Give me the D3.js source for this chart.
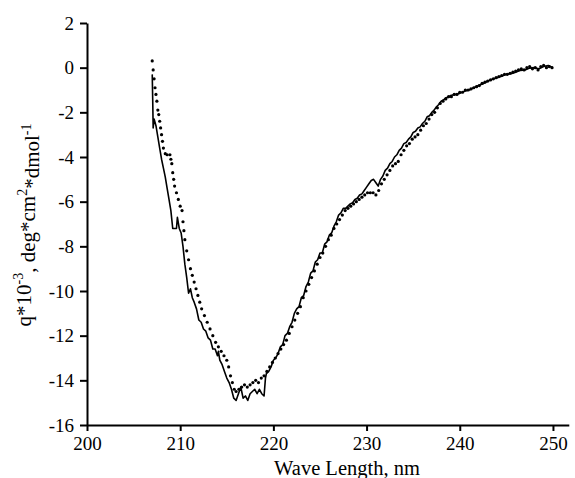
<html>
<head>
<title>CD spectrum</title>
<script src="https://cdn.jsdelivr.net/npm/d3@7"></script>
<style>
body { margin: 0; background: #fff; }
text { font-family: "Liberation Serif", "Times New Roman", serif; fill: #000; }
</style>
</head>
<body>
<div id="chart"></div>
<script>
// solid trace
var solidNm = [207.0, 207.05, 207.1, 207.2, 207.4, 207.6, 207.8, 208.0, 208.2, 208.4, 208.6, 208.8, 209.0, 209.2, 209.4, 209.6, 209.7, 209.9, 210.1, 210.3, 210.5, 210.7, 210.9, 211.1, 211.3, 211.5, 211.75, 212.0, 212.25, 212.5, 212.75, 213.0, 213.25, 213.5, 213.75, 214.0, 214.1, 214.25, 214.5, 214.75, 215.0, 215.25, 215.5, 215.75, 216.0, 216.25, 216.5, 216.75, 217.0, 217.25, 217.5, 217.75, 218.0, 218.25, 218.5, 218.75, 219.0, 219.15, 219.25, 219.5, 219.75, 220.0, 220.25, 220.5, 220.75, 221.0, 221.25, 221.5, 221.75, 222.0, 222.25, 222.5, 222.75, 223.0, 223.25, 223.5, 223.75, 224.0, 224.25, 224.5, 224.75, 225.0, 225.25, 225.5, 225.75, 226.0, 226.25, 226.5, 226.75, 227.0, 227.25, 227.5, 227.75, 228.0, 228.25, 228.5, 228.75, 229.0, 229.25, 229.5, 229.75, 230.0, 230.25, 230.5, 230.75, 231.0, 231.25, 231.5, 231.75, 232.0, 232.25, 232.5, 232.75, 233.0, 233.25, 233.5, 233.75, 234.0, 234.25, 234.5, 234.75, 235.0, 235.25, 235.5, 235.75, 236.0, 236.25, 236.5, 236.75, 237.0, 237.25, 237.5, 237.75, 238.0, 238.25, 238.5, 238.75, 239.0, 239.5, 240.0, 240.5, 241.0, 241.5, 242.0, 242.5, 243.0, 243.5, 244.0, 244.5, 245.0, 245.5, 246.0, 246.5, 247.0, 247.5, 248.0, 248.5, 249.0, 249.5, 250.0];
var solidVal = [-0.3, -1.4, -2.7, -2.3, -2.6, -3.1, -3.6, -4.1, -4.5, -4.9, -5.4, -5.9, -6.4, -7.2, -7.2, -7.2, -6.7, -7.2, -7.4, -8.0, -8.8, -9.4, -10.1, -9.9, -10.3, -10.5, -10.8, -11.3, -11.4, -11.7, -11.8, -12.1, -12.2, -12.6, -12.6, -12.9, -12.7, -13.1, -13.3, -13.6, -13.9, -14.1, -14.4, -14.8, -14.9, -14.6, -14.3, -14.8, -14.7, -14.9, -14.6, -14.5, -14.4, -14.6, -14.4, -14.6, -14.7, -13.9, -13.7, -13.6, -13.4, -13.1, -13.0, -12.8, -12.5, -12.4, -12.0, -11.9, -11.6, -11.4, -11.0, -10.8, -10.7, -10.3, -10.2, -9.8, -9.6, -9.2, -9.1, -8.7, -8.6, -8.3, -8.3, -7.9, -7.8, -7.5, -7.4, -7.1, -6.9, -6.6, -6.5, -6.3, -6.3, -6.2, -6.1, -6.05, -5.9, -5.85, -5.7, -5.65, -5.5, -5.35, -5.2, -5.05, -5.0, -5.15, -5.3, -5.0, -4.85, -4.6, -4.5, -4.3, -4.2, -4.0, -3.9, -3.7, -3.6, -3.4, -3.35, -3.2, -3.1, -2.9, -2.85, -2.7, -2.65, -2.5, -2.4, -2.2, -2.15, -2.0, -1.9, -1.75, -1.65, -1.5, -1.45, -1.35, -1.33, -1.25, -1.2, -1.15, -1.05, -1.0, -0.9, -0.8, -0.72, -0.6, -0.52, -0.45, -0.38, -0.3, -0.27, -0.2, -0.12, -0.1, -0.02, 0.0, -0.05, 0.05, 0.1, 0.0];

// dotted trace
var dotNm = [207.0, 207.1, 207.2, 207.3, 207.4, 207.5, 207.6, 207.7, 207.8, 207.9, 208.0, 208.1, 208.2, 208.4, 208.6, 208.9, 209.0, 209.1, 209.2, 209.3, 209.4, 209.6, 209.8, 210.0, 210.2, 210.3, 210.4, 210.5, 210.7, 210.9, 211.1, 211.3, 211.5, 211.7, 211.9, 212.1, 212.3, 212.6, 212.9, 213.2, 213.5, 213.8, 214.1, 214.4, 214.7, 215.0, 215.2, 215.4, 215.6, 215.8, 216.0, 216.3, 216.6, 216.9, 217.2, 217.5, 217.8, 218.1, 218.4, 218.7, 219.0, 219.3, 219.6, 219.9, 220.2, 220.5, 220.8, 221.1, 221.4, 221.7, 222.0, 222.3, 222.6, 222.9, 223.2, 223.5, 223.8, 224.1, 224.4, 224.7, 225.0, 225.3, 225.6, 225.9, 226.2, 226.5, 226.8, 227.1, 227.4, 227.7, 228.0, 228.3, 228.6, 228.9, 229.2, 229.5, 229.8, 230.1, 230.4, 230.7, 231.0, 231.3, 231.6, 231.9, 232.2, 232.5, 232.8, 233.1, 233.4, 233.7, 234.0, 234.3, 234.6, 234.9, 235.2, 235.5, 235.8, 236.1, 236.4, 236.7, 237.0, 237.3, 237.6, 237.9, 238.2, 238.5, 238.8, 239.1, 239.4, 239.7, 240.0, 240.3, 240.6, 240.9, 241.2, 241.5, 241.8, 242.1, 242.4, 242.7, 243.0, 243.3, 243.6, 243.9, 244.2, 244.5, 244.8, 245.1, 245.4, 245.7, 246.0, 246.3, 246.6, 246.9, 247.2, 247.5, 247.8, 248.1, 248.4, 248.7, 249.0, 249.3, 249.6, 249.9];
var dotVal = [0.3, -0.1, -0.5, -0.9, -1.2, -1.5, -1.9, -2.1, -2.4, -2.7, -3.0, -3.3, -3.6, -3.85, -3.9, -3.9, -4.1, -4.3, -4.7, -5.0, -5.3, -5.6, -5.9, -6.2, -6.4, -6.9, -7.3, -7.7, -8.2, -8.6, -9.0, -9.3, -9.6, -9.9, -10.2, -10.5, -10.8, -11.1, -11.4, -11.7, -12.0, -12.3, -12.5, -12.7, -12.9, -13.1, -13.4, -13.8, -14.1, -14.4, -14.5, -14.4, -14.3, -14.2, -14.3, -14.2, -14.1, -14.0, -14.1, -13.9, -13.8, -13.6, -13.4, -13.2, -13.0, -12.8, -12.6, -12.4, -12.2, -11.9, -11.6, -11.3, -11.0, -10.7, -10.3, -10.0, -9.7, -9.4, -9.1, -8.8, -8.5, -8.3, -8.0, -7.7, -7.5, -7.2, -7.0, -6.8, -6.6, -6.4, -6.3, -6.2, -6.1, -6.0, -5.9, -5.8, -5.7, -5.6, -5.6, -5.6, -5.7, -5.5, -5.2, -5.0, -4.8, -4.6, -4.4, -4.3, -4.2, -3.9, -3.7, -3.5, -3.4, -3.2, -3.1, -3.0, -2.8, -2.6, -2.5, -2.3, -2.1, -2.0, -1.8, -1.6, -1.5, -1.4, -1.3, -1.3, -1.2, -1.2, -1.1, -1.1, -1.0, -1.0, -0.95, -0.9, -0.85, -0.8, -0.7, -0.65, -0.6, -0.55, -0.5, -0.45, -0.4, -0.35, -0.3, -0.3, -0.25, -0.2, -0.15, -0.1, -0.05, -0.1, 0.0, 0.05, -0.05, 0.0, -0.1, 0.05, 0.1, 0.0, 0.05, 0.0];

var xTicks = [200, 210, 220, 230, 240, 250];
var yTicks = [2, 0, -2, -4, -6, -8, -10, -12, -14, -16];

var width = 575, height = 478;

var svg = d3.select("#chart").append("svg")
	.attr("width", width)
	.attr("height", height);

var x = d3.scaleLinear().domain([200, 251.7]).range([87, 568.8]);
var y = d3.scaleLinear().domain([-16, 2]).range([425, 23]);

// axes
svg.append("g")
	.attr("transform", "translate(0," + y(-16) + ")")
	.call(d3.axisBottom(x).tickValues(xTicks).tickSize(6).tickSizeOuter(0).tickPadding(6));
svg.append("g")
	.attr("transform", "translate(" + x(200) + ",0)")
	.call(d3.axisLeft(y).tickValues(yTicks).tickSize(7).tickSizeOuter(0).tickPadding(6)
		.tickFormat(function(d) { return d; }));

svg.selectAll(".domain").attr("stroke", "#000").attr("stroke-width", 2);
svg.selectAll(".tick line").attr("stroke", "#000").attr("stroke-width", 2);
svg.selectAll(".tick text")
	.style("font-family", "'Liberation Serif', serif")
	.style("font-size", "19px")
	.attr("fill", "#000");

// solid line
var line = d3.line()
	.x(function(d, i) { return x(solidNm[i]); })
	.y(function(d) { return y(d); });

svg.append("path")
	.datum(solidVal)
	.attr("d", line)
	.attr("fill", "none")
	.attr("stroke", "#000")
	.attr("stroke-width", 1.6)
	.attr("stroke-linejoin", "round");

// dotted series
svg.selectAll(".dot")
	.data(dotVal)
	.enter()
	.append("circle")
	.attr("class", "dot")
	.attr("cx", function(d, i) { return x(dotNm[i]); })
	.attr("cy", function(d) { return y(d); })
	.attr("r", 1.6)
	.attr("fill", "#000");

// axis titles
svg.append("text")
	.attr("x", 347)
	.attr("y", 475)
	.attr("text-anchor", "middle")
	.style("font-size", "20.5px")
	.text("Wave Length, nm");

var ylab = svg.append("text")
	.attr("transform", "translate(31,225) rotate(-90)")
	.attr("text-anchor", "middle")
	.style("font-size", "21px");
ylab.append("tspan").text("q*10");
ylab.append("tspan").attr("dy", "-0.55em").style("font-size", "14px").text("-3");
ylab.append("tspan").attr("dy", "0.55em").text(", deg*cm");
ylab.append("tspan").attr("dy", "-0.55em").style("font-size", "14px").text("2");
ylab.append("tspan").attr("dy", "0.55em").text("*dmol");
ylab.append("tspan").attr("dy", "-0.55em").style("font-size", "14px").text("-1");
</script>
</body>
</html>
